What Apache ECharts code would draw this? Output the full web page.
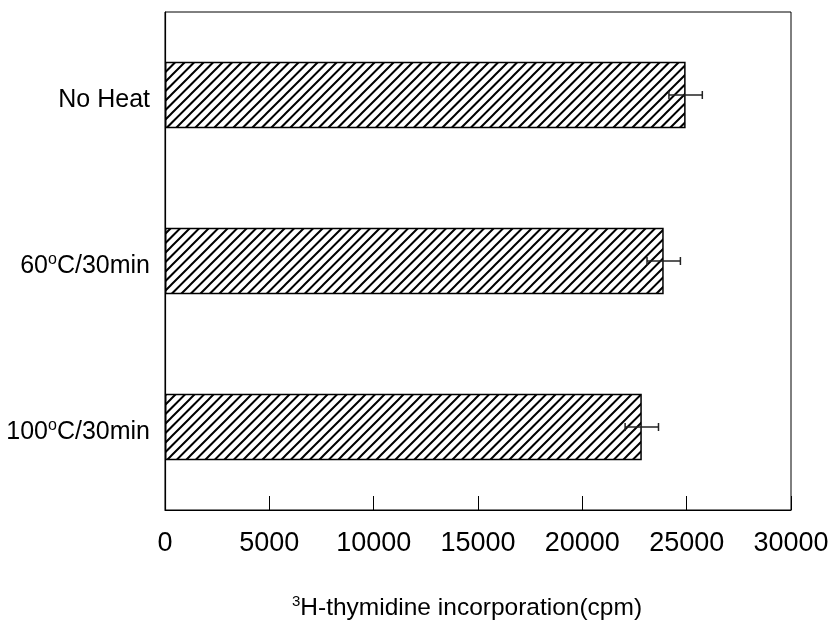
<!DOCTYPE html>
<html>
<head>
<meta charset="utf-8">
<script src="https://cdn.jsdelivr.net/npm/echarts@6/dist/echarts.min.js"></script>
<style>
  html, body { margin: 0; padding: 0; background: #fff; }
  #chart { width: 835px; height: 624px; }
</style>
</head>
<body>
<div id="chart"></div>
<script>
// Treatments, top to bottom
const categories = ['No Heat', '60{sup|o}C/30min', '100{sup|o}C/30min'];
// Mean incorporation (cpm) and error half-widths
const means = [24950, 23900, 22850];
const errors = [800, 800, 800];
// X axis ticks
const xMin = 0, xMax = 30000, xStep = 5000;

// Diagonal hatch fill for the bars
function hatchPattern() {
  const s = 9.5;
  const c = document.createElement('canvas');
  c.width = 19; c.height = 19;
  const g = c.getContext('2d');
  g.fillStyle = '#fff';
  g.fillRect(0, 0, 19, 19);
  g.strokeStyle = '#000';
  g.lineWidth = 2;
  g.beginPath();
  for (let k = -2; k <= 2; k++) {
    const o = k * s;
    g.moveTo(o - 2, 19 + 2); g.lineTo(o + 19 + 2, -2);
  }
  g.stroke();
  return c;
}

const font = '"Liberation Sans", Arial, sans-serif';
const chart = echarts.init(document.getElementById('chart'));

const errData = means.map((m, i) => [m - errors[i], m + errors[i], i]);

chart.setOption({
  animation: false,
  backgroundColor: '#fff',
  grid: {
    left: 165, right: 44, top: 12, bottom: 114,
    outerBoundsMode: 'none',
    containLabel: false,
    show: true, borderColor: '#000', borderWidth: 1, backgroundColor: 'transparent'
  },
  xAxis: {
    type: 'value',
    min: xMin, max: xMax, interval: xStep,
    axisLine: { show: true, lineStyle: { color: '#000', width: 1.2 } },
    axisTick: { show: true, inside: true, length: 14, lineStyle: { color: '#000', width: 1 } },
    splitLine: { show: false },
    axisLabel: {
      color: '#000', fontSize: 27, fontFamily: font, margin: 20,
      formatter: v => String(v)
    },
    name: '{sup|3}H-thymidine incorporation(cpm)',
    nameLocation: 'middle',
    nameGap: 84,
    nameTextStyle: {
      color: '#000', fontSize: 24.5, fontFamily: font, padding: [0, 22, 0, 0],
      lineHeight: 28,
      rich: { sup: { fontSize: 15, fontFamily: font, color: '#000', verticalAlign: 'top', lineHeight: 28 } }
    }
  },
  yAxis: {
    type: 'category',
    data: categories,
    inverse: true,
    axisLine: { show: true, lineStyle: { color: '#000', width: 1.2 } },
    axisTick: { show: false },
    axisLabel: {
      color: '#000', fontSize: 25, fontFamily: font, margin: 15, lineHeight: 29,
      padding: [10, 0, 0, 0],
      rich: { sup: { fontSize: 16, fontFamily: font, color: '#000', verticalAlign: 'top', lineHeight: 27 } }
    }
  },
  series: [
    {
      type: 'bar',
      data: means,
      barWidth: '40%',
      itemStyle: {
        color: { image: hatchPattern(), repeat: 'repeat' },
        borderColor: '#000',
        borderWidth: 1.5
      },
      z: 2
    },
    {
      type: 'custom',
      data: errData,
      z: 3,
      renderItem: function (params, api) {
        const lo = api.coord([api.value(0), api.value(2)]);
        const hi = api.coord([api.value(1), api.value(2)]);
        const cap = 4;
        const style = { stroke: '#222', lineWidth: 1.5, fill: null };
        return {
          type: 'group',
          children: [
            { type: 'line', shape: { x1: lo[0], y1: lo[1], x2: hi[0], y2: hi[1] }, style },
            { type: 'line', shape: { x1: lo[0], y1: lo[1] - cap, x2: lo[0], y2: lo[1] + cap }, style },
            { type: 'line', shape: { x1: hi[0], y1: hi[1] - cap, x2: hi[0], y2: hi[1] + cap }, style }
          ]
        };
      }
    }
  ]
});
</script>
</body>
</html>
